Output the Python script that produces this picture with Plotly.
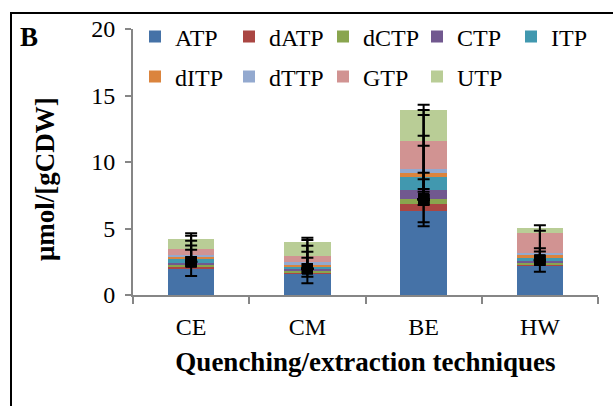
import plotly.graph_objects as go

# Nucleotide pool per quenching/extraction technique (µmol per g cell dry weight)
techniques = ["CE", "CM", "BE", "HW"]

ATP = [1.98, 1.55, 6.34, 2.18]
dATP = [0.15, 0.17, 0.50, 0.15]
dCTP = [0.13, 0.13, 0.40, 0.10]
CTP = [0.17, 0.12, 0.66, 0.13]
ITP = [0.25, 0.15, 1.00, 0.24]
dITP = [0.20, 0.20, 0.28, 0.28]
dTTP = [0.12, 0.15, 0.33, 0.10]
GTP = [0.46, 0.46, 2.05, 1.48]
UTP = [0.75, 1.02, 2.32, 0.38]

series_names = ["ATP", "dATP", "dCTP", "CTP", "ITP", "dITP", "dTTP", "GTP", "UTP"]
series_values = [ATP, dATP, dCTP, CTP, ITP, dITP, dTTP, GTP, UTP]
series_colors = ["#4572A7", "#AA4643", "#89A54E", "#71588F", "#4198AF",
                 "#DB843D", "#93A9CF", "#D19392", "#B9CD96"]

# Mean marker and error-bar limits for each technique
err_center = [2.50, 1.98, 7.20, 2.62]
err_upper = [
    [4.65, 4.45, 4.08, 3.73, 3.40],
    [4.31, 4.14, 3.71, 3.26, 2.80],
    [14.31, 13.91, 13.53, 11.98, 11.23, 9.20, 8.70, 7.97, 7.77],
    [5.24, 4.84, 3.52, 3.28],
]
err_lower = [
    [1.42],
    [1.38, 0.88],
    [6.77, 5.47, 5.17],
    [1.75],
]

FONT = "Liberation Serif"
W, H = 613, 406
L, R, T, B = 133, 15, 29, 111
PW, PH = W - L - R, H - T - B
LEGEND_COL = 94  # px per legend entry


def px_to_paper(px, py):
    return (px - L) / PW, (H - B - py) / PH


# Legend rows: first row holds five entries, split in two legend boxes so it never wraps
legend_of = ["legend", "legend", "legend", "legend", "legend3",
             "legend2", "legend2", "legend2", "legend2"]

fig = go.Figure()

for name, vals, col, lg in zip(series_names, series_values, series_colors, legend_of):
    fig.add_trace(go.Bar(
        name=name, x=techniques, y=vals, width=0.4,
        marker=dict(color=col, line=dict(width=0)),
        legend=lg,
    ))

# Error bars drawn from the mean marker up/down to each limit
ex, ey, eplus, eminus = [], [], [], []
for cat, c, ups, lows in zip(techniques, err_center, err_upper, err_lower):
    for u in ups:
        ex.append(cat); ey.append(c); eplus.append(u - c); eminus.append(0)
    for d in lows:
        ex.append(cat); ey.append(c); eplus.append(0); eminus.append(c - d)

fig.add_trace(go.Scatter(
    x=ex, y=ey, mode="markers", showlegend=False,
    marker=dict(symbol="square", size=11, color="black"),
    error_y=dict(type="data", symmetric=False, array=eplus, arrayminus=eminus,
                 color="black", thickness=2, width=6),
))

# Outer frame (left and top edges)
fl, ft = px_to_paper(11, 13)
fr, fb = px_to_paper(W + 5, H + 5)
fig.add_shape(type="path", xref="paper", yref="paper",
              path=f"M {fl} {fb} L {fl} {ft} L {fr} {ft}",
              line=dict(color="black", width=2))

bx, by = px_to_paper(29, 37)
fig.add_annotation(text="<b>B</b>", xref="paper", yref="paper", x=bx, y=by,
                   showarrow=False, xanchor="center", yanchor="middle",
                   font=dict(family=FONT, size=27, color="black"))

tx, ty = px_to_paper(45, 179)
fig.add_annotation(text="<b>μmol/[gCDW]</b>", xref="paper", yref="paper", x=tx, y=ty,
                   showarrow=False, textangle=-90, xanchor="center", yanchor="middle",
                   font=dict(family=FONT, size=27, color="black"))

lx1, ly1 = px_to_paper(135, 37)
lx3, _ = px_to_paper(135 + 4 * LEGEND_COL, 37)
lx2, ly2 = px_to_paper(135, 77)
legend_style = dict(orientation="h", xanchor="left", yanchor="middle",
                    traceorder="normal",
                    entrywidth=LEGEND_COL - 45, entrywidthmode="pixels",
                    bgcolor="rgba(0,0,0,0)", borderwidth=0,
                    font=dict(family=FONT, size=24, color="black"))

fig.update_layout(
    width=W, height=H,
    margin=dict(l=L, r=R, t=T, b=B, autoexpand=False),
    paper_bgcolor="white", plot_bgcolor="white",
    barmode="stack", bargap=0.6,
    font=dict(family=FONT, size=24, color="black"),
    legend=dict(x=lx1, y=ly1, **legend_style),
    legend3=dict(x=lx3, y=ly1, **legend_style),
    legend2=dict(x=lx2, y=ly2, **legend_style),
    xaxis=dict(
        type="category", showgrid=False, showline=True, linecolor="#868686", linewidth=2,
        ticks="outside", tickson="boundaries", ticklen=7, tickcolor="#868686", tickwidth=2,
        ticklabelstandoff=9,
        tickfont=dict(family=FONT, size=24, color="black"),
        title=dict(text="<b>Quenching/extraction techniques</b>",
                   font=dict(family=FONT, size=27, color="black"), standoff=13),
    ),
    yaxis=dict(
        range=[0, 20], dtick=5, showgrid=False, zeroline=False,
        showline=True, linecolor="#868686", linewidth=2,
        ticks="outside", ticklen=6, tickcolor="#868686", tickwidth=2,
        ticklabelstandoff=5,
        tickfont=dict(family=FONT, size=24, color="black"),
    ),
)

fig.write_html("out.html")
